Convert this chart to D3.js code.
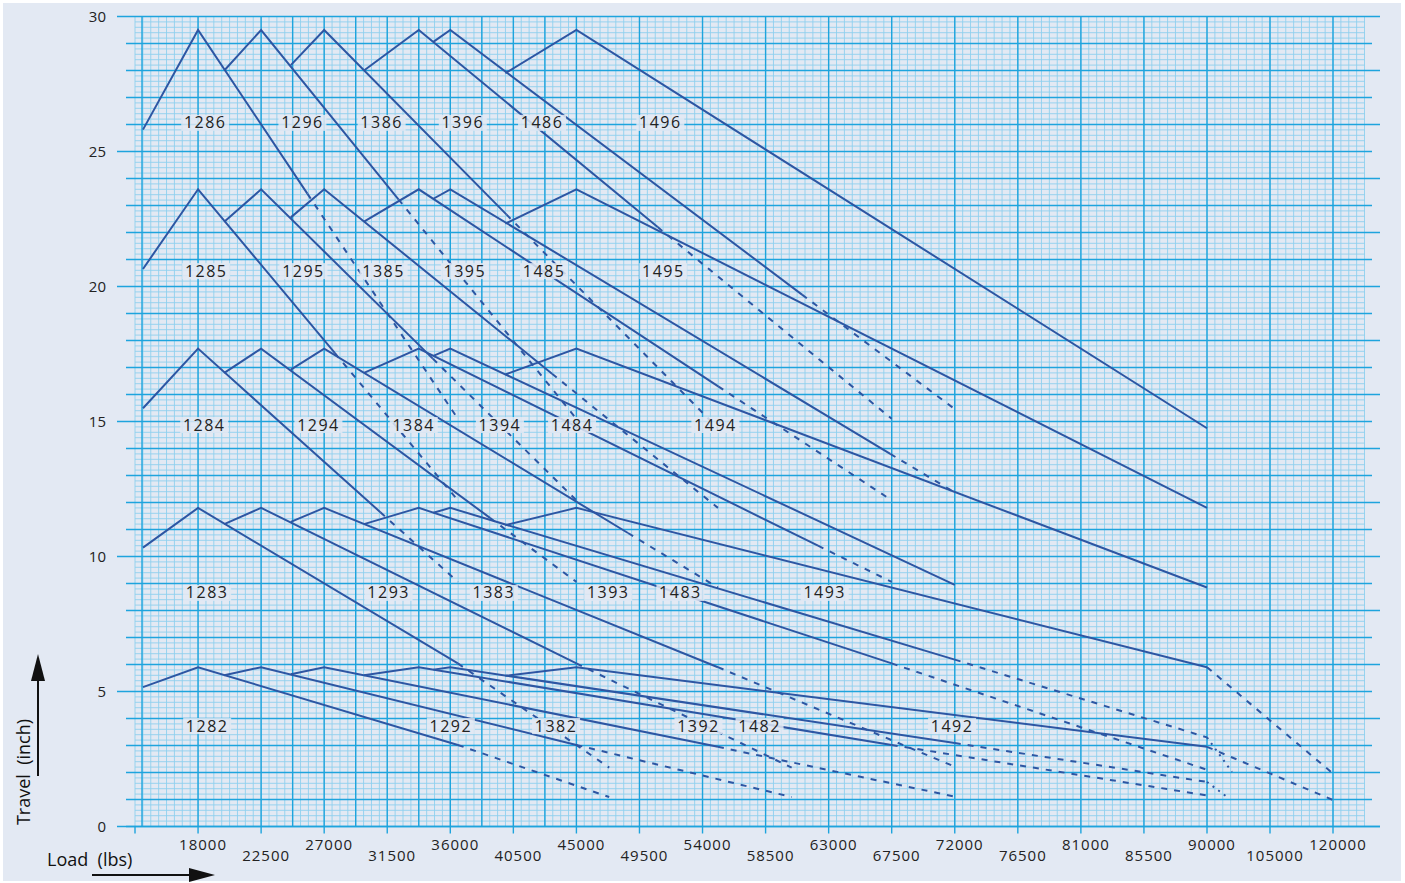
<!DOCTYPE html>
<html>
<head>
<meta charset="utf-8">
<script src="https://cdn.jsdelivr.net/npm/d3@7"></script>
<style>
  body { margin: 0; background: #fff; }
  svg { display: block; font-family: "Open Sans", "Noto Sans", sans-serif; }
</style>
</head>
<body>
<div id="chart"></div>
<script>
const w = 1405;
const h = 883;

// axis ticks
const loadTicks = [13500, 18000, 22500, 27000, 31500, 36000, 40500, 45000, 49500, 54000,
  58500, 63000, 67500, 72000, 76500, 81000, 85500, 90000, 105000, 120000];
const travelTicks = [0, 5, 10, 15, 20, 25, 30];

// models (load lbs, travel inch)
const modelNames = ["1282", "1283", "1284", "1285", "1286",
  "1292", "1293", "1294", "1295", "1296",
  "1382", "1383", "1384", "1385", "1386",
  "1392", "1393", "1394", "1395", "1396",
  "1482", "1483", "1484", "1485", "1486",
  "1492", "1493", "1494", "1495", "1496"];

const solidPts = [
  [[14070, 5.16], [18000, 5.9], [36540, 3.02]],
  [[14070, 10.33], [18000, 11.8], [36540, 6.04]],
  [[14070, 15.49], [18000, 17.7], [31010, 11.64]],
  [[14070, 20.65], [18000, 23.6], [27755, 17.54]],
  [[14070, 25.81], [18000, 29.5], [25800, 23.44]],
  [[19870, 5.6], [22500, 5.9], [45000, 3.02]],
  [[19870, 11.2], [22500, 11.8], [45000, 6.04]],
  [[19870, 16.8], [22500, 17.7], [38830, 11.43]],
  [[19870, 22.4], [22500, 23.6], [34750, 17.33]],
  [[19870, 28.0], [22500, 29.5], [32300, 23.23]],
  [[24620, 5.64], [27000, 5.9], [55100, 2.95]],
  [[24620, 11.28], [27000, 11.8], [55100, 5.9]],
  [[24620, 16.92], [27000, 17.7], [48680, 10.87]],
  [[24620, 22.56], [27000, 23.6], [43260, 16.77]],
  [[24620, 28.2], [27000, 29.5], [40000, 22.67]],
  [[29840, 5.6], [33750, 5.9], [67500, 3.02]],
  [[29840, 11.2], [33750, 11.8], [67500, 6.04]],
  [[29840, 16.8], [33750, 17.7], [62240, 10.4]],
  [[29840, 22.4], [33750, 23.6], [55120, 16.3]],
  [[29840, 28.0], [33750, 29.5], [50800, 22.2]],
  [[34790, 5.81], [36000, 5.9], [72000, 3.09]],
  [[34790, 11.62], [36000, 11.8], [72000, 6.18]],
  [[34790, 17.43], [36000, 17.7], [72000, 8.95]],
  [[34790, 23.25], [36000, 23.6], [67400, 13.8]],
  [[34790, 29.06], [36000, 29.5], [61100, 19.7]],
  [[39930, 5.58], [45000, 5.9], [90000, 2.95]],
  [[39930, 11.16], [45000, 11.8], [90000, 5.9]],
  [[39930, 16.74], [45000, 17.7], [90000, 8.85]],
  [[39930, 22.33], [45000, 23.6], [90000, 11.8]],
  [[39930, 27.9], [45000, 29.5], [90000, 14.75]]
];

const dashedPts = [
  [[36540, 3.02], [47340, 1.09]],
  [[36540, 6.04], [47340, 2.18]],
  [[31010, 11.64], [36540, 9.06]],
  [[27755, 17.54], [36540, 12.08]],
  [[25800, 23.44], [36540, 15.1]],
  [[45000, 3.02], [60360, 1.09]],
  [[45000, 6.04], [60360, 2.18]],
  [[38830, 11.43], [45000, 9.06]],
  [[34750, 17.33], [45000, 12.08]],
  [[32300, 23.23], [45000, 15.1]],
  [[55100, 2.95], [72160, 1.09]],
  [[55100, 5.9], [72160, 2.18]],
  [[48680, 10.87], [55100, 8.85]],
  [[43260, 16.77], [55100, 11.8]],
  [[40000, 22.67], [55100, 14.75]],
  [[67500, 3.02], [90000, 1.15]],
  [[67500, 6.04], [90000, 2.1]],
  [[62240, 10.4], [67500, 9.06]],
  [[55120, 16.3], [67500, 12.08]],
  [[50800, 22.2], [67500, 15.1]],
  [[72000, 3.09], [90000, 1.65]],
  [[72000, 6.18], [90000, 3.3]],
  [],
  [[67400, 13.8], [72000, 12.37]],
  [[61100, 19.7], [72000, 15.46]],
  [[90000, 2.95], [120000, 0.98]],
  [[90000, 5.9], [120000, 1.96]],
  [], [], []
];

const dottedPts = [
  [[90000, 1.65], [95000, 1.07]],
  [[90000, 3.3], [95950, 2.02]]
];

// model label anchors (load, travel)
const labelLoads = [
  18650, 18650, 18440, 18580, 18510,
  36040, 31600, 26590, 25520, 25450,
  43550, 39110, 33390, 31240, 31100,
  53710, 47270, 39540, 37040, 36890,
  58070, 52420, 44690, 42690, 42550,
  71810, 62720, 54920, 51200, 50990];
const labelTravels = [3.72, 8.65, 14.87, 20.57, 26.06];

const x = d3.scaleLinear().domain([13500, 90000, 120000]).range([135, 1207, 1333]);
const y = d3.scaleLinear().domain([0, 30]).range([826.5, 16.5]);

const bg = "#e3e9f3";
const lineColor = "#2d56a3";

const svg = d3.select("#chart").append("svg")
  .attr("width", w).attr("height", h);

svg.append("rect")
  .attr("x", 3).attr("y", 3)
  .attr("width", 1398).attr("height", 878)
  .attr("fill", bg);

// graph paper
const grid = svg.append("g");
const gx0 = 135, gx1 = 1365;

const minorLoads = d3.range(13500, 90000, 562.5).concat(d3.range(90000, 127700, 1875));
grid.selectAll(".vminor").data(minorLoads).enter().append("line")
  .attr("x1", (d) => x(d)).attr("x2", (d) => x(d))
  .attr("y1", y(30)).attr("y2", y(0))
  .attr("stroke", "#8fd0ee").attr("stroke-width", 0.9);

const minorTravels = d3.range(0, 30.01, 0.2);
grid.selectAll(".hminor").data(minorTravels).enter().append("line")
  .attr("x1", gx0).attr("x2", gx1)
  .attr("y1", (d) => y(d)).attr("y2", (d) => y(d))
  .attr("stroke", "#8fd0ee").attr("stroke-width", 0.9);

const majorLoads = d3.range(18000, 90001, 4500)
  .concat(d3.range(24750, 45000, 4500))
  .concat([14000, 105000, 120000]);
grid.selectAll(".vmajor").data(majorLoads).enter().append("line")
  .attr("x1", (d) => x(d)).attr("x2", (d) => x(d))
  .attr("y1", y(30)).attr("y2", y(0))
  .attr("stroke", "#1ea4dd").attr("stroke-width", 1.4);

const majorTravels = d3.range(0, 31, 1);
grid.selectAll(".hmajor").data(majorTravels).enter().append("line")
  .attr("x1", (d) => (d % 5 === 0 ? 117 : 126))
  .attr("x2", (d) => (d % 2 === 0 ? 1380 : 1372))
  .attr("y1", (d) => y(d)).attr("y2", (d) => y(d))
  .attr("stroke", "#1ea4dd").attr("stroke-width", 1.4);

// x axis
const xAxis = svg.append("g").attr("transform", `translate(0, ${y(0)})`);
xAxis.append("line")
  .attr("x1", 126).attr("x2", 1380)
  .attr("stroke", "#1ea4dd").attr("stroke-width", 1.6);
xAxis.selectAll(".tick").data(loadTicks).enter().append("line")
  .attr("x1", (d) => x(d)).attr("x2", (d) => x(d))
  .attr("y1", 0).attr("y2", 7)
  .attr("stroke", "#1ea4dd").attr("stroke-width", 1.4);
xAxis.selectAll(".lbl").data(loadTicks.slice(1)).enter().append("text")
  .attr("x", (d) => x(d) + 5)
  .attr("y", (d, i) => (i % 2 === 0 ? 23 : 34))
  .attr("text-anchor", "middle")
  .attr("font-size", 15)
  .attr("letter-spacing", 1)
  .attr("fill", "#222")
  .text((d) => d);

// y tick labels
svg.selectAll(".ylbl").data(travelTicks).enter().append("text")
  .attr("x", 106)
  .attr("y", (d) => y(d) + 5)
  .attr("text-anchor", "end")
  .attr("font-size", 15)
  .attr("fill", "#222")
  .text((d) => d);

// curves
const line = d3.line().x((d) => x(d[0])).y((d) => y(d[1]));
const curves = svg.append("g").attr("fill", "none").attr("stroke", lineColor);

curves.selectAll(".solid").data(solidPts).enter().append("path")
  .attr("d", line)
  .attr("stroke-width", 2)
  .attr("stroke-linejoin", "miter");

curves.selectAll(".dashed").data(dashedPts.filter((d) => d.length)).enter().append("path")
  .attr("d", line)
  .attr("stroke-width", 2)
  .attr("stroke-dasharray", "6,7");

curves.selectAll(".dotted").data(dottedPts).enter().append("path")
  .attr("d", line)
  .attr("stroke-width", 2)
  .attr("stroke-dasharray", "2,5");

// model labels
const labels = svg.append("g");
modelNames.forEach((name, i) => {
  const lx = x(labelLoads[i]);
  const ly = y(labelTravels[i % 5]);
  labels.append("rect")
    .attr("x", lx - 24).attr("y", ly - 8)
    .attr("width", 48).attr("height", 16)
    .attr("fill", bg).attr("opacity", 0.85);
  labels.append("text")
    .attr("x", lx).attr("y", ly + 5.5)
    .attr("text-anchor", "middle")
    .attr("font-size", 16)
    .attr("letter-spacing", 1.5)
    .attr("fill", "#222")
    .text(name);
});

// axis titles and arrows
svg.append("text")
  .attr("transform", "translate(30, 772) rotate(-90)")
  .attr("text-anchor", "middle")
  .attr("font-size", 18)
  .attr("fill", "#111")
  .attr("xml:space", "preserve")
  .text("Travel  (inch)");

svg.append("line")
  .attr("x1", 38).attr("x2", 38).attr("y1", 776).attr("y2", 675)
  .attr("stroke", "#111").attr("stroke-width", 2);
svg.append("path")
  .attr("d", "M38,654 L31,681 L45,681 Z")
  .attr("fill", "#111");

svg.append("text")
  .attr("x", 47).attr("y", 866)
  .attr("font-size", 18)
  .attr("fill", "#111")
  .attr("xml:space", "preserve")
  .text("Load  (lbs)");

svg.append("line")
  .attr("x1", 92).attr("x2", 196).attr("y1", 875).attr("y2", 875)
  .attr("stroke", "#111").attr("stroke-width", 2);
svg.append("path")
  .attr("d", "M215,875 L189,868 L189,882 Z")
  .attr("fill", "#111");
</script>
</body>
</html>
